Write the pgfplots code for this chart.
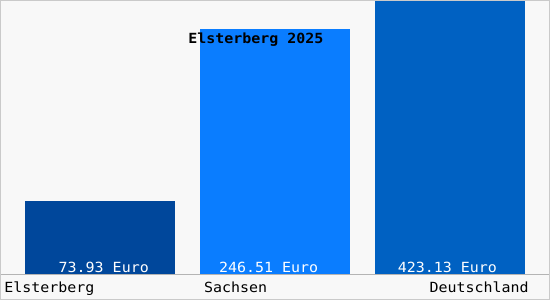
\documentclass[border=0pt]{standalone}
\usepackage{fontspec}
\usepackage{pgfplots}
\pgfplotsset{compat=1.18}
\newfontfamily\monof[FakeStretch=1.07]{DejaVu Sans Mono}
\definecolor{cElster}{HTML}{00479B}
\definecolor{cSachsen}{HTML}{0A7DFF}
\definecolor{cDeutsch}{HTML}{0061C2}
\definecolor{bgc}{HTML}{F8F8F8}
\definecolor{linec}{HTML}{B4B4B4}
\begin{document}
\begin{tikzpicture}[x=1pt,y=1pt]
\fill[bgc] (0,-25) rectangle (550,275);
\begin{axis}[
  at={(0,0)}, anchor=south west,
  scale only axis, width=550pt, height=275pt,
  xmin=-0.5714, xmax=2.5714, ymin=0, ymax=275,
  axis line style={draw=none},
  ytick=\empty,
  xtick={0,1,2},
  xticklabels={{\makebox[0pt][l]{\hspace{-96pt}Elsterberg}},{\makebox[0pt][l]{\hspace{-71pt}Sachsen}},{\makebox[0pt][r]{Deutschland\hspace{-79pt}}}},
  major tick length=0pt,
  xticklabel style={anchor=base, yshift=-18pt, font=\monof\fontsize{14}{16}\selectfont, text=black},
  clip=true,
]
\addplot[ybar, bar width=0.857, bar shift=0, fill=cElster, draw=none] coordinates {(0,73.93)};
\addplot[ybar, bar width=0.857, bar shift=0, fill=cSachsen, draw=none] coordinates {(1,246.51)};
\addplot[ybar, bar width=0.857, bar shift=0, fill=cDeutsch, draw=none] coordinates {(2,423.13)};
\draw[linec, line width=1pt] (axis cs:-0.6,0) -- (axis cs:2.6,0);
\node[anchor=base, text=white, font=\monof\fontsize{14}{16}\selectfont, inner sep=0] at (axis cs:0.02,2.3) {73.93 Euro};
\node[anchor=base, text=white, font=\monof\fontsize{14}{16}\selectfont, inner sep=0] at (axis cs:0.963,2.3) {246.51 Euro};
\node[anchor=base, text=white, font=\monof\fontsize{14}{16}\selectfont, inner sep=0] at (axis cs:1.986,2.3) {423.13 Euro};
\node[anchor=base, text=black, font=\monof\bfseries\fontsize{14}{16}\selectfont, inner sep=0] at (axis cs:0.891,232) {Elsterberg 2025};
\end{axis}
\draw[linec!70,line width=0.8pt] (0,-24.6) rectangle (550,274.6);
\end{tikzpicture}
\end{document}
